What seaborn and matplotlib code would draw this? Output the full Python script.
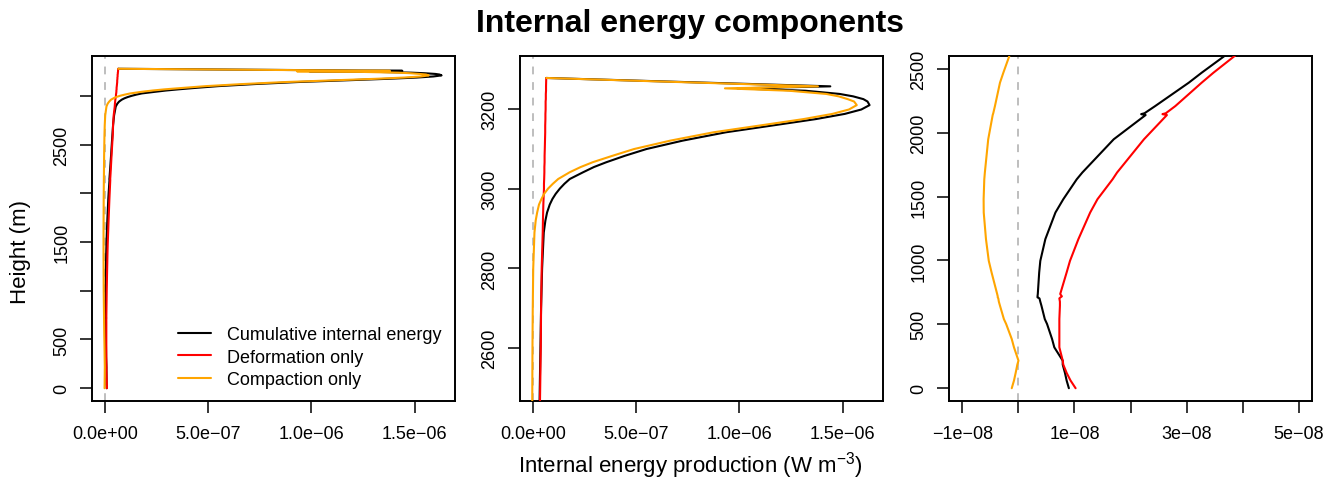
import matplotlib
matplotlib.use("Agg")
import matplotlib.pyplot as plt
import numpy as np
import pandas as pd
import seaborn as sns

# Height above the bed (m) at which the energy terms are sampled
height_m = [0, 60, 120, 185, 216, 320, 385, 503, 541, 646, 677, 703, 711, 719,
            737, 906, 997, 1167, 1375, 1479, 1635, 1688, 1948, 2138, 2145, 2152,
            2208, 2391, 2469, 2604, 2700, 2800, 2890, 2920, 2940, 2960, 2974,
            2987, 3000, 3012, 3024, 3041, 3054, 3066, 3082, 3099, 3120, 3141,
            3158, 3174, 3187, 3198, 3209, 3218, 3224, 3231, 3237, 3245, 3251,
            3256, 3277]

# Internal energy production (W m^-3)
cumulative = [0.90e-8, 0.86e-8, 0.83e-8, 0.79e-8, 0.79e-8, 0.64e-8, 0.60e-8,
              0.51e-8, 0.47e-8, 0.41e-8, 0.39e-8, 0.375e-8, 0.34e-8, 0.34e-8,
              0.345e-8, 0.37e-8, 0.39e-8, 0.48e-8, 0.66e-8, 0.80e-8, 1.04e-8,
              1.14e-8, 1.70e-8, 2.27e-8, 2.19e-8, 2.25e-8, 2.44e-8, 3.04e-8,
              3.27e-8, 3.69e-8, 0.040e-6, 0.045e-6, 0.053e-6, 0.061e-6,
              0.069e-6, 0.082e-6, 0.095e-6, 0.111e-6, 0.131e-6, 0.153e-6,
              0.179e-6, 0.244e-6, 0.296e-6, 0.356e-6, 0.445e-6, 0.55e-6,
              0.725e-6, 0.935e-6, 1.16e-6, 1.37e-6, 1.51e-6, 1.59e-6, 1.63e-6,
              1.62e-6, 1.60e-6, 1.55e-6, 1.485e-6, 1.32e-6, 0.99e-6, 1.44e-6,
              0.065e-6]

deformation = [1.02e-8, 0.93e-8, 0.86e-8, 0.80e-8, 0.79e-8, 0.73e-8, 0.73e-8,
               0.73e-8, 0.73e-8, 0.74e-8, 0.74e-8, 0.73e-8, 0.75e-8, 0.775e-8,
               0.745e-8, 0.86e-8, 0.92e-8, 1.07e-8, 1.28e-8, 1.41e-8, 1.68e-8,
               1.76e-8, 2.24e-8, 2.65e-8, 2.57e-8, 2.63e-8, 2.80e-8, 3.27e-8,
               3.48e-8, 3.87e-8, 0.040e-6, 0.043e-6, 0.048e-6, 0.049e-6,
               0.050e-6, 0.051e-6, 0.052e-6, 0.053e-6, 0.054e-6, 0.054e-6,
               0.055e-6, 0.056e-6, 0.056e-6, 0.057e-6, 0.057e-6, 0.058e-6,
               0.059e-6, 0.060e-6, 0.060e-6, 0.061e-6, 0.061e-6, 0.062e-6,
               0.062e-6, 0.062e-6, 0.063e-6, 0.063e-6, 0.063e-6, 0.064e-6,
               0.064e-6, 0.064e-6, 0.065e-6]

compaction = [-0.12e-8, -0.08e-8, -0.05e-8, -0.02e-8, 0.0, -0.08e-8, -0.12e-8,
              -0.22e-8, -0.26e-8, -0.33e-8, -0.35e-8, -0.36e-8, -0.37e-8,
              -0.37e-8, -0.38e-8, -0.48e-8, -0.53e-8, -0.58e-8, -0.62e-8,
              -0.622e-8, -0.61e-8, -0.60e-8, -0.54e-8, -0.46e-8, -0.455e-8,
              -0.45e-8, -0.42e-8, -0.33e-8, -0.27e-8, -0.16e-8, -0.03e-8,
              0.002e-6, 0.008e-6, 0.014e-6, 0.021e-6, 0.030e-6, 0.042e-6,
              0.055e-6, 0.074e-6, 0.097e-6, 0.123e-6, 0.179e-6, 0.232e-6,
              0.29e-6, 0.385e-6, 0.49e-6, 0.665e-6, 0.875e-6, 1.10e-6, 1.31e-6,
              1.45e-6, 1.53e-6, 1.568e-6, 1.555e-6, 1.524e-6, 1.48e-6,
              1.42e-6, 1.24e-6, 0.93e-6, 1.38e-6, 0.065e-6]

series_names = ["Cumulative internal energy", "Deformation only", "Compaction only"]
series_colors = ["black", "red", "orange"]

# Tick positions and labels for the three views
p12_xticks = [0.0, 5e-7, 1e-6, 1.5e-6]
p12_xlabels = ["0.0e+00", "5.0e\u221207", "1.0e\u221206", "1.5e\u221206"]
p1_yticks = [0, 500, 1000, 1500, 2000, 2500, 3000]
p1_ylabels = ["0", "500", "", "1500", "", "2500", ""]
p2_yticks = [2600, 2800, 3000, 3200]
p2_ylabels = ["2600", "2800", "3000", "3200"]
p3_xticks = [-1e-8, 0.0, 1e-8, 2e-8, 3e-8, 4e-8, 5e-8]
p3_xlabels = ["\u22121e\u221208", "", "1e\u221208", "", "3e\u221208", "", "5e\u221208"]
p3_yticks = [0, 500, 1000, 1500, 2000, 2500]
p3_ylabels = ["0", "500", "1000", "1500", "2000", "2500"]

df = pd.concat([
    pd.DataFrame({"height": height_m, "value": vals, "series": name})
    for name, vals in zip(series_names, [cumulative, deformation, compaction])
], ignore_index=True)

sns.set_style("ticks")
plt.rcParams["font.family"] = ["Liberation Sans", "DejaVu Sans"]
plt.rcParams["mathtext.fontset"] = "custom"
plt.rcParams["mathtext.rm"] = "Liberation Sans"
plt.rcParams["mathtext.it"] = "Liberation Sans:italic"
plt.rcParams["mathtext.bf"] = "Liberation Sans:bold"
plt.rcParams["axes.unicode_minus"] = True
plt.rcParams["text.color"] = "black"
plt.rcParams["axes.labelcolor"] = "black"
plt.rcParams["xtick.color"] = "black"
plt.rcParams["ytick.color"] = "black"

W, H = 1337, 485
fig = plt.figure(figsize=(W / 100, H / 100), dpi=100)
fig.patch.set_facecolor("white")

def box(left, top, right, bottom):
    return [left / W, 1 - bottom / H, (right - left) / W, (bottom - top) / H]

axes = [fig.add_axes(box(92, 57, 455, 402)),
        fig.add_axes(box(520, 57, 883, 402)),
        fig.add_axes(box(949, 57, 1312, 402))]

palette = dict(zip(series_names, series_colors))
for i, ax in enumerate(axes):
    ax.axvline(0, color="#BEBEBE", lw=1.4, linestyle=(0, (4, 4)), zorder=1)
    sns.lineplot(data=df, x="value", y="height", hue="series", hue_order=series_names,
                 palette=palette, orient="y", sort=False, estimator=None,
                 linewidth=1.5, legend=(i == 0), ax=ax, zorder=3)
    ax.set_xlabel("")
    ax.set_ylabel("")
    for sp in ax.spines.values():
        sp.set_visible(True)
        sp.set_color("black")
        sp.set_linewidth(1.4)
    ax.tick_params(direction="out", length=8.4, width=1.1, color="black",
                   labelsize=13, labelcolor="black")
    ax.tick_params(axis="x", pad=9)
    ax.tick_params(axis="y", pad=7)

ax1, ax2, ax3 = axes
ax1.set_xlim(-0.062e-6, 1.695e-6)
ax1.set_ylim(-131, 3408)
ax1.set_xticks(p12_xticks, p12_xlabels)
ax1.set_yticks(p1_yticks, p1_ylabels)

ax2.set_xlim(-0.062e-6, 1.695e-6)
ax2.set_ylim(2468, 3332)
ax2.set_xticks(p12_xticks, p12_xlabels)
ax2.set_yticks(p2_yticks, p2_ylabels)

ax3.set_xlim(-1.24e-8, 5.24e-8)
ax3.set_ylim(-100, 2600)
ax3.set_xticks(p3_xticks, p3_xlabels)
ax3.set_yticks(p3_yticks, p3_ylabels)

for ax in axes:
    plt.setp(ax.get_yticklabels(), rotation=90, va="center")

leg = ax1.legend(loc="center left", bbox_to_anchor=(0.236, 0.127), frameon=False,
                 fontsize=13, handlelength=1.83, handletextpad=0.92,
                 labelspacing=0.3, borderpad=0, borderaxespad=0)
for line in leg.get_lines():
    line.set_linewidth(1.5)
for txt in leg.get_texts():
    txt.set_color("black")

fig.text(690 / W, 1 - 31.7 / H, "Internal energy components", ha="center",
         va="baseline", fontsize=23, fontweight="bold", color="black")
fig.text(690 / W, 1 - 473 / H, "Internal energy production (W m$^{-3}$)",
         ha="center", va="baseline", fontsize=16, color="black")
fig.text(21 / W, 1 - 252.5 / H, "Height (m)", rotation=90, ha="center",
         va="center", fontsize=16, color="black")

fig.savefig("out.png", dpi=100, facecolor="white")
